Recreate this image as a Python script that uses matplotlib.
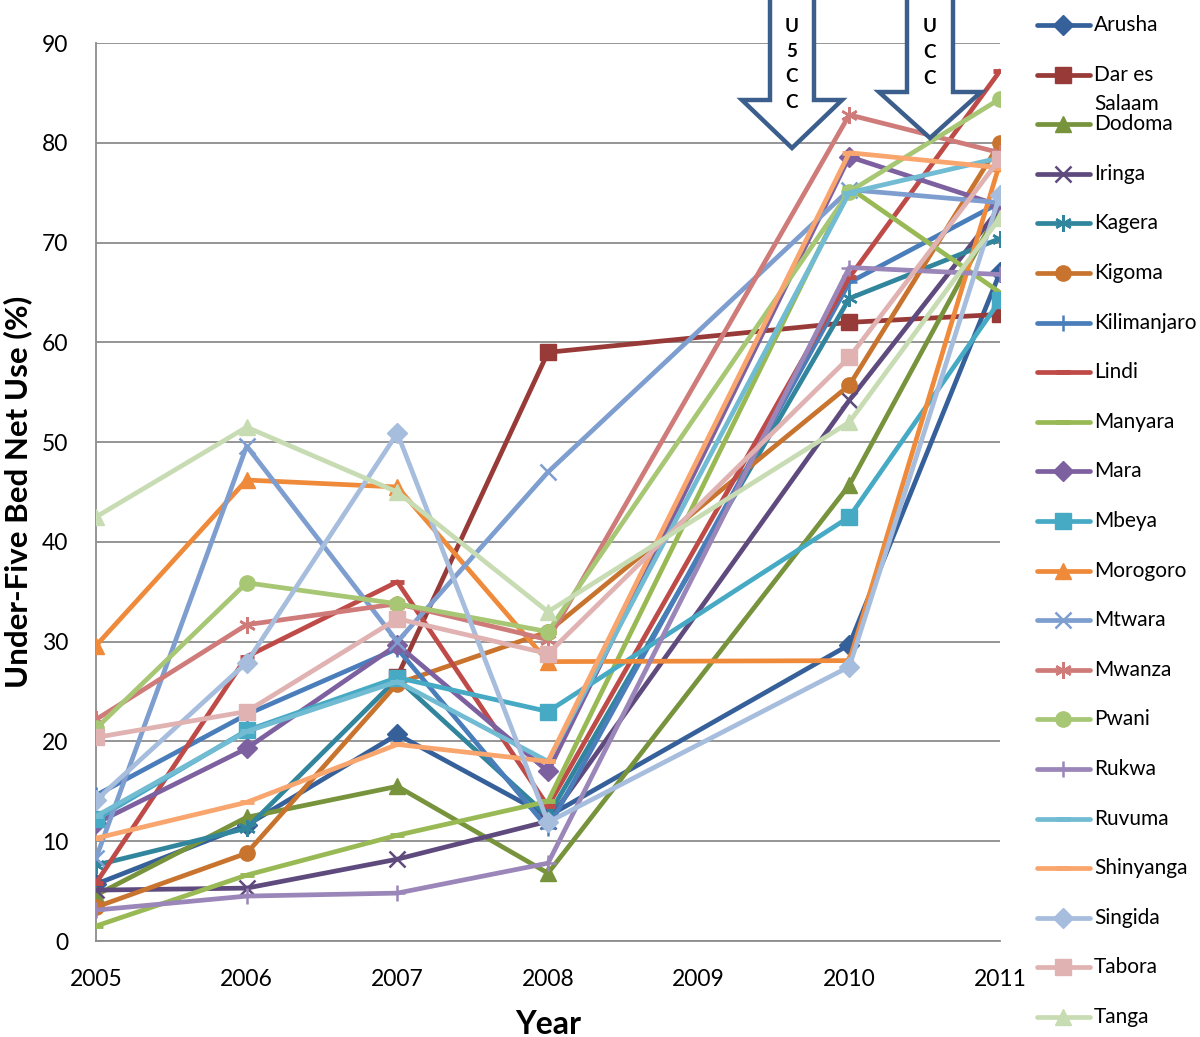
import numpy as np
import matplotlib
matplotlib.use("Agg")
from matplotlib import pyplot as plt
from matplotlib.lines import Line2D
from matplotlib.patches import Polygon

plt.rcParams['font.family'] = ['Lato', 'DejaVu Sans']

nan = np.nan

# survey years (no survey in 2009, lines jump 2008 -> 2010)
years = [2005, 2006, 2007, 2008, 2010, 2011]
year_ticks = [2005, 2006, 2007, 2008, 2009, 2010, 2011]

arusha = [5.7, 11.6, 20.7, 12.5, 29.7, 67.0]
dar = [nan, nan, 26.5, 59.0, 62.0, 62.8]
dodoma = [4.6, 12.4, 15.5, 6.8, 45.7, 73.5]
iringa = [5.1, 5.3, 8.2, 12.0, 54.2, 73.5]
kagera = [7.6, 11.3, 26.3, 12.5, 64.4, 70.4]
kigoma = [3.4, 8.8, 25.8, 31.0, 55.7, 80.0]
kilimanjaro = [14.6, 22.7, 29.3, 11.3, 66.0, 74.0]
lindi = [5.8, 28.5, 36.0, 13.5, 66.5, 87.2]
manyara = [1.5, 6.6, 10.6, 14.0, 75.5, 65.0]
mara = [11.8, 19.3, 29.7, 17.0, 78.6, 73.7]
mbeya = [12.2, 21.1, 26.4, 23.0, 42.5, 64.2]
morogoro = [29.6, 46.2, 45.5, 28.0, 28.1, 78.0]
mtwara = [8.3, 49.6, 30.0, 47.0, 75.3, 74.0]
mwanza = [22.2, 31.7, 33.8, 30.2, 82.8, 79.0]
pwani = [21.3, 35.9, 33.8, 31.0, 75.1, 84.4]
rukwa = [3.1, 4.5, 4.8, 7.8, 67.5, 66.8]
ruvuma = [12.5, 21.0, 26.0, 18.0, 75.0, 78.5]
shinyanga = [10.3, 13.9, 19.7, 18.0, 79.0, 77.5]
singida = [14.1, 27.9, 50.9, 11.9, 27.5, 74.8]
tabora = [20.4, 23.0, 32.3, 28.8, 58.5, 78.4]
tanga = [42.5, 51.5, 45.0, 33.0, 52.0, 72.5]

STAR = (6, 2, 0)
# name, values, colour, marker
regions = [
    ("Arusha", arusha, "#36609A", "D"),
    ("Dar es Salaam", dar, "#983A38", "s"),
    ("Dodoma", dodoma, "#77933C", "^"),
    ("Iringa", iringa, "#5F4A7E", "x"),
    ("Kagera", kagera, "#31859C", STAR),
    ("Kigoma", kigoma, "#C8742E", "o"),
    ("Kilimanjaro", kilimanjaro, "#4A7EBB", "+"),
    ("Lindi", lindi, "#BE4B48", "_"),
    ("Manyara", manyara, "#98B954", "_"),
    ("Mara", mara, "#7D60A0", "D"),
    ("Mbeya", mbeya, "#46AAC5", "s"),
    ("Morogoro", morogoro, "#EF8A3B", "^"),
    ("Mtwara", mtwara, "#7E9ED0", "x"),
    ("Mwanza", mwanza, "#CF7B79", STAR),
    ("Pwani", pwani, "#A7C775", "o"),
    ("Rukwa", rukwa, "#9A86B8", "+"),
    ("Ruvuma", ruvuma, "#71BCD3", "_"),
    ("Shinyanga", shinyanga, "#F9A56E", "_"),
    ("Singida", singida, "#A7BDDD", "D"),
    ("Tabora", tabora, "#E0B2B1", "s"),
    ("Tanga", tanga, "#C8DCB3", "^"),
]

def marker_kw(m):
    if m in ("x", "+", STAR):
        return dict(markersize=12, markeredgewidth=1.8)
    if m == "_":
        return dict(markersize=10, markeredgewidth=3.5)
    if m == "D":
        return dict(markersize=10)
    return dict(markersize=11)

W, H = 1200, 1037
fig = plt.figure(figsize=(W / 100, H / 100), dpi=100)
ax = fig.add_axes([96 / W, (H - 941) / H, (1000 - 96) / W, (941 - 43) / H])

for name, vals, col, m in regions:
    ax.plot(years, vals, color=col, lw=3.4, marker=m, markerfacecolor=col,
            markeredgecolor=col, solid_joinstyle="round", solid_capstyle="round",
            **marker_kw(m), zorder=3)

ax.set_xlim(2005, 2011)
ax.set_ylim(0, 90)
ax.set_xticks(year_ticks)
ax.set_yticks(range(0, 91, 10))
ax.tick_params(length=0, labelsize=16.5, colors="black")
ax.tick_params(axis="x", pad=20)
ax.tick_params(axis="y", pad=20)
ax.grid(axis="y", color="#8C8C8C", lw=1.3)
ax.set_axisbelow(True)
for s in ("top", "right"):
    ax.spines[s].set_visible(False)
for s in ("left", "bottom"):
    ax.spines[s].set_color("#8C8C8C")
    ax.spines[s].set_linewidth(1.3)

ax.set_ylabel("Under-Five Bed Net Use (%)", fontsize=22.5, fontweight="bold", va="center")
ax.yaxis.set_label_coords((18 - 96) / 904, 0.5)
ax.set_xlabel("Year", fontsize=23, fontweight="bold", va="center")
ax.xaxis.set_label_coords(0.5, (941 - 1024) / 898)

# block arrows marking campaigns (pixel coords -> figure fraction)
def px(x, y):
    return (x / W, 1 - y / H)

def block_arrow(cx, half_shaft, half_head, neck_y, tip_y, text, text_y0):
    pts = [(cx - half_shaft, -10), (cx + half_shaft, -10), (cx + half_shaft, neck_y),
           (cx + half_head, neck_y), (cx, tip_y), (cx - half_head, neck_y),
           (cx - half_shaft, neck_y)]
    poly = Polygon([px(*p) for p in pts], closed=True, transform=fig.transFigure,
                   facecolor="white", edgecolor="#3B5E8C", lw=3.2, zorder=10,
                   joinstyle="miter")
    fig.add_artist(poly)
    for i, ch in enumerate(text):
        fig.text(*px(cx, text_y0 + i * 25.5), ch, ha="center", va="center",
                 fontsize=13.5, fontweight="bold", zorder=11)

block_arrow(792, 22, 50, 100, 148, "U5CC", 26)
block_arrow(930, 23, 51, 92, 138, "UCC", 27)

# legend down the right side
for i, (name, vals, col, m) in enumerate(regions):
    y = 25 + i * 49.6
    fig.add_artist(Line2D([1037 / W, 1090 / W], [1 - y / H, 1 - y / H], color=col,
                          lw=3.4, solid_capstyle="round", transform=fig.transFigure))
    fig.add_artist(Line2D([1063 / W], [1 - y / H], color=col, marker=m,
                          markerfacecolor=col, markeredgecolor=col, lw=0,
                          transform=fig.transFigure, **marker_kw(m)))
    if name == "Dar es Salaam":
        fig.text(*px(1094, y), "Dar es", ha="left", va="center", fontsize=15)
        fig.text(*px(1094, y + 29), "Salaam", ha="left", va="center", fontsize=15)
    else:
        fig.text(*px(1094, y), name, ha="left", va="center", fontsize=15)

fig.savefig("out.png", dpi=100)
